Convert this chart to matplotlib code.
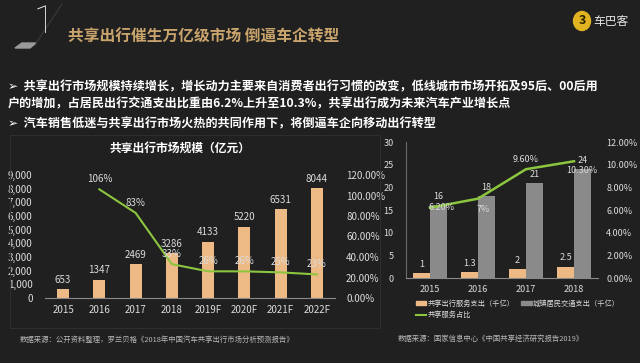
import matplotlib
matplotlib.use('Agg')
import matplotlib.pyplot as plt
from matplotlib.patches import Polygon, Rectangle, Ellipse, Patch
from matplotlib.lines import Line2D

plt.rcParams['font.family'] = ['Noto Sans CJK SC', 'DejaVu Sans']

# ---- data ----
market_years = ['2015', '2016', '2017', '2018', '2019F', '2020F', '2021F', '2022F']
market_size = [653, 1347, 2469, 3286, 4133, 5220, 6531, 8044]
growth_years = ['2016', '2017', '2018', '2019F', '2020F', '2021F', '2022F']
growth_pct = [106, 83, 33, 26, 26, 25, 23]

spend_years = ['2015', '2016', '2017', '2018']
share_spend = [1, 1.3, 2, 2.5]
city_spend = [16, 18, 21, 24]
share_ratio = [6.2, 7.0, 9.6, 10.3]
share_ratio_labels = ['6.20%', '7%', '9.60%', '10.30%']

BG = '#202020'
ORANGE = '#EDBA85'
GRAY = '#8a8a8a'
GREEN = '#8CC63F'
TXT = '#dcdcdc'
W, H = 640, 363


def fx(x):
    return x / W


def fy(y):
    return 1 - y / H


fig = plt.figure(figsize=(6.4, 3.63), dpi=100, facecolor=BG)

# ---- header ----
fig.text(fx(44), fy(22), '1', color='#e6e6e6', fontsize=27, family='Roboto',
         fontweight='light', ha='center', va='center')
fig.patches.append(Polygon([(fx(15), fy(48)), (fx(30), fy(48)), (fx(36), fy(43)), (fx(22), fy(43))],
                           closed=True, transform=fig.transFigure, color='#9a9a9a'))
fig.lines.append(Line2D([fx(36), fx(62)], [fy(43), fy(4)], transform=fig.transFigure,
                        color='#3a3a3a', lw=0.8))
fig.text(fx(68), fy(37), '共享出行催生万亿级市场 倒逼车企转型', color='#C9A46C',
         fontsize=11.3, fontweight='bold', va='center')
fig.patches.append(Ellipse((fx(582), fy(21)), 17 / W, 19 / H, transform=fig.transFigure,
                           color='#E2B321'))
fig.text(fx(582), fy(21), '3', color='#2a2000', fontsize=9, fontweight='bold',
         ha='center', va='center')
fig.text(fx(593), fy(21), '车巴客', color='#e8e8e8', fontsize=8.5, va='center')

bullets = [
    (87, '➢  共享出行市场规模持续增长，增长动力主要来自消费者出行习惯的改变，低线城市市场开拓及95后、00后用'),
    (104, '户的增加，占居民出行交通支出比重由6.2%上升至10.3%，共享出行成为未来汽车产业增长点'),
    (124, '➢  汽车销售低迷与共享出行市场火热的共同作用下，将倒逼车企向移动出行转型'),
]
for y, s in bullets:
    fig.text(fx(8), fy(y), s, color='white', fontsize=8.7, fontweight='bold', va='center')

# left panel frame
fig.patches.append(Rectangle((fx(10), fy(328)), fx(370), 193 / H, transform=fig.transFigure,
                             fill=False, edgecolor='#2e2e2e', lw=0.8))

# ---- left chart ----
ax1 = fig.add_axes([fx(45), fy(298), fx(290), 123 / H])
ax1.set_facecolor('none')
xs = list(range(len(market_years)))
ax1.bar(xs, market_size, width=0.33, color=ORANGE, zorder=2)
ax1.set_xlim(-0.5, len(market_years) - 0.5)
ax1.set_ylim(0, 9000)
ax1.set_yticks(range(0, 9001, 1000))
ax1.set_yticklabels([f'{v:,}' for v in range(0, 9001, 1000)])
ax1.set_xticks(xs)
ax1.set_xticklabels(market_years)
ax1.tick_params(length=0, colors=TXT, labelsize=7)
ax1.tick_params(axis='y', pad=9)
ax1.tick_params(axis='x', pad=5)
for k in ['top', 'right', 'left']:
    ax1.spines[k].set_visible(False)
ax1.spines['bottom'].set_color('#8a8a8a')
for x, v in zip(xs, market_size):
    ax1.annotate(str(v), (x, v), xytext=(0, 3), textcoords='offset points',
                 ha='center', va='bottom', color=TXT, fontsize=7)

ax1r = ax1.twinx()
ax1r.set_ylim(0, 120)
ax1r.set_yticks(range(0, 121, 20))
ax1r.set_yticklabels([f'{v:.2f}%' for v in range(0, 121, 20)])
ax1r.tick_params(length=0, colors=TXT, labelsize=7, pad=8)
for k in ['top', 'right', 'left', 'bottom']:
    ax1r.spines[k].set_visible(False)
gx = [market_years.index(y) for y in growth_years]
ax1r.plot(gx, growth_pct, color=GREEN, lw=1.5, zorder=3)
for x, v in zip(gx, growth_pct):
    ax1r.annotate(f'{v}%', (x, v), xytext=(0, 7.5), textcoords='offset points',
                  ha='center', va='center', color=TXT, fontsize=7)

fig.text(fx(180), fy(148), '共享出行市场规模（亿元）', color='white', fontsize=8.5,
         fontweight='bold', ha='center', va='center')

# ---- right chart ----
ax2 = fig.add_axes([fx(406), fy(278), fx(192), 136 / H])
ax2.set_facecolor('none')
xs2 = list(range(len(spend_years)))
bw = 0.35
ax2.bar([x - bw / 2 for x in xs2], share_spend, width=bw, color=ORANGE, zorder=2)
ax2.bar([x + bw / 2 for x in xs2], city_spend, width=bw, color=GRAY, zorder=2)
ax2.set_xlim(-0.5, len(spend_years) - 0.5)
ax2.set_ylim(0, 30)
ax2.set_yticks(range(0, 31, 5))
ax2.set_xticks(xs2)
ax2.set_xticklabels(spend_years)
ax2.tick_params(length=0, colors=TXT, labelsize=6.5)
ax2.tick_params(axis='y', pad=9)
ax2.tick_params(axis='x', pad=5)
for k in ['top', 'right']:
    ax2.spines[k].set_visible(False)
ax2.spines['bottom'].set_color('#8a8a8a')
ax2.spines['left'].set_color('#6a6a6a')
for x, a, b in zip(xs2, share_spend, city_spend):
    ax2.annotate(f'{a:g}', (x - bw / 2, a), xytext=(0, 3), textcoords='offset points',
                 ha='center', va='bottom', color=TXT, fontsize=6.5)
    ax2.annotate(f'{b:g}', (x + bw / 2, b), xytext=(0, 3), textcoords='offset points',
                 ha='center', va='bottom', color=TXT, fontsize=6.5)

ax2r = ax2.twinx()
ax2r.set_ylim(0, 12)
ax2r.set_yticks(range(0, 13, 2))
ax2r.set_yticklabels([f'{v:.2f}%' for v in range(0, 13, 2)])
ax2r.tick_params(length=0, colors=TXT, labelsize=6.5, pad=6)
for k in ['top', 'right', 'left', 'bottom']:
    ax2r.spines[k].set_visible(False)
ax2r.plot(xs2, share_ratio, color=GREEN, lw=1.8, zorder=3)
label_offsets = [(8, 0), (4, -8), (0, 7), (6, -7)]
for x, v, s, off in zip(xs2, share_ratio, share_ratio_labels, label_offsets):
    ax2r.annotate(s, (x, v), xytext=off, textcoords='offset points',
                  ha='center', va='center', color=TXT, fontsize=6.5)

handles = [Patch(color=ORANGE, label='共享出行服务支出（千亿）'),
           Line2D([], [], color=GREEN, lw=1.5, label='共享服务占比'),
           Patch(color=GRAY, label='城镇居民交通支出（千亿）')]
fig.legend(handles=handles, ncol=2, loc='upper left', bbox_to_anchor=(fx(412), fy(296)),
           frameon=False, fontsize=5.2, labelcolor=TXT, handlelength=1.5, handleheight=0.5,
           handletextpad=0.2, columnspacing=0.8, labelspacing=0.5, borderpad=0)

# ---- sources ----
fig.text(fx(20), fy(340), '数据来源：公开资料整理，罗兰贝格《2018年中国汽车共享出行市场分析预测报告》',
         color='#b8b8b8', fontsize=5.3, va='center')
fig.text(fx(398), fy(339), '数据来源：国家信息中心《中国共享经济研究报告2019》',
         color='#b8b8b8', fontsize=5.3, va='center')

fig.savefig('out.png', dpi=100, facecolor=BG)
